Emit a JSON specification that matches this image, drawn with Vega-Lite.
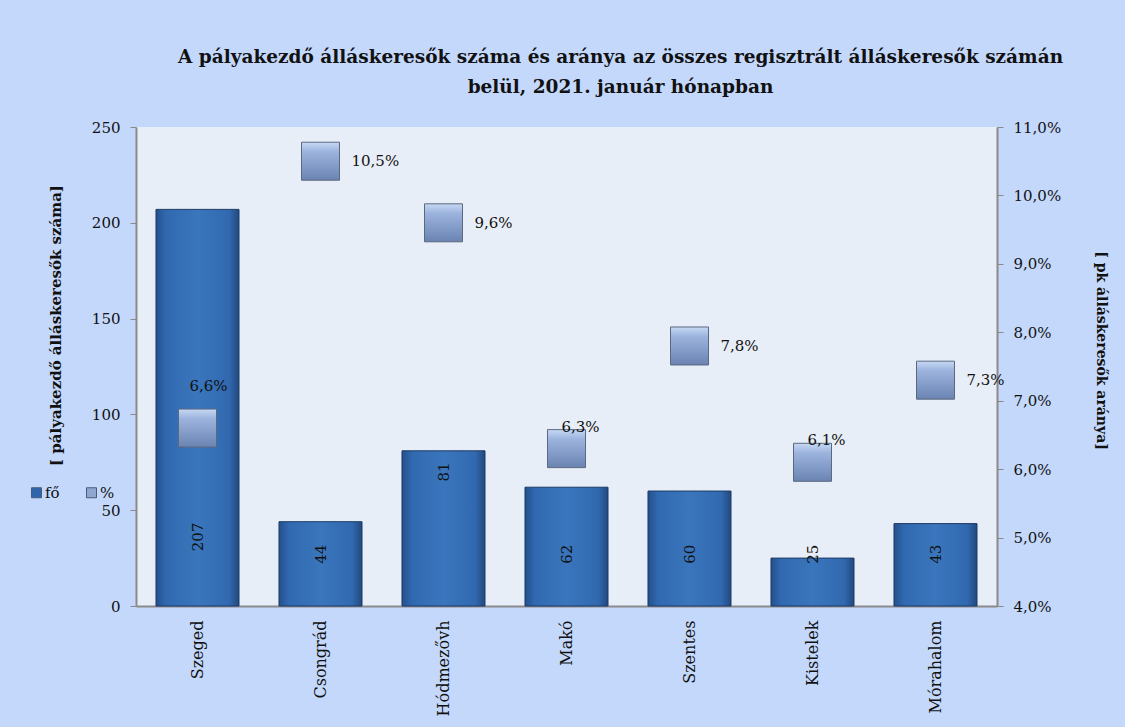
{
  "$schema": "https://vega.github.io/schema/vega-lite/v6.json",
  "width": 861,
  "height": 479,
  "autosize": {"type": "none"},
  "padding": {"left": 136, "top": 127, "right": 128, "bottom": 121},
  "background": "#c4d8fc",
  "config": {
    "locale": {"number": {"decimal": ",", "thousands": "\u00a0", "grouping": [3], "currency": ["", "\u00a0Ft"]}},
    "font": "DejaVu Serif",
    "view": {"fill": "#e8eef7", "stroke": null},
    "axis": {
      "labelFont": "DejaVu Serif", "labelFontSize": 15, "labelColor": "#111",
      "titleFont": "DejaVu Serif", "titleFontSize": 14, "titleFontWeight": "bold", "titleColor": "#111",
      "domainColor": "#8a8a8a", "tickColor": "#8a8a8a", "grid": false, "domainWidth": 2, "tickSize": 6, "labelPadding": 10
    }
  },
  "title": {
    "text": ["A pályakezdő álláskeresők száma és aránya az összes regisztrált álláskeresők számán", "belül, 2021. január hónapban"],
    "font": "DejaVu Serif", "fontSize": 18.5, "fontWeight": "bold", "color": "#111",
    "anchor": "middle", "dx": 54, "offset": 24, "lineHeight": 30
  },
  "data": {"values": [
    {"city": "Szeged", "fo": 207, "pct": 0.066},
    {"city": "Csongrád", "fo": 44, "pct": 0.105},
    {"city": "Hódmezővh", "fo": 81, "pct": 0.096},
    {"city": "Makó", "fo": 62, "pct": 0.063},
    {"city": "Szentes", "fo": 60, "pct": 0.078},
    {"city": "Kistelek", "fo": 25, "pct": 0.061},
    {"city": "Mórahalom", "fo": 43, "pct": 0.073}
  ]},
  "encoding": {
    "x": {"field": "city", "type": "nominal", "sort": null,
      "scale": {"paddingInner": 0.325, "paddingOuter": 0.1625},
      "axis": {"title": null, "labelAngle": -90, "ticks": false, "labelPadding": 14, "labelFontSize": 16}}
  },
  "layer": [
    {
      "layer": [
        {
          "mark": {
            "type": "bar",
            "fill": {"gradient": "linear", "x1": 0, "y1": 0, "x2": 1, "y2": 0,
              "stops": [{"offset": 0, "color": "#24508c"}, {"offset": 0.12, "color": "#3169b0"}, {"offset": 0.5, "color": "#3a76bd"}, {"offset": 0.88, "color": "#3169b0"}, {"offset": 1, "color": "#22497f"}]},
            "stroke": "#1d3a66", "strokeWidth": 1
          },
          "encoding": {
            "y": {"field": "fo", "type": "quantitative", "scale": {"domain": [0, 250], "nice": false},
              "axis": {"values": [0, 50, 100, 150, 200, 250], "title": "[ pályakezdő  álláskeresők száma]", "titleFontSize": 15,
                "titleX": -81, "titleY": 198, "titleAngle": -90, "titleAlign": "center", "titleBaseline": "middle"}}
          }
        },
        {
          "transform": [{"filter": "datum.city !== 'Hódmezővh' && datum.city !== 'Szeged'"}],
          "mark": {"type": "text", "angle": -90, "align": "center", "baseline": "middle", "fontSize": 15, "color": "#111"},
          "encoding": {
            "y": {"datum": 27, "type": "quantitative"},
            "text": {"field": "fo", "type": "quantitative"}
          }
        },
        {
          "transform": [{"filter": "datum.city === 'Szeged'"}],
          "mark": {"type": "text", "angle": -90, "align": "center", "baseline": "middle", "fontSize": 15, "color": "#111"},
          "encoding": {
            "y": {"datum": 36, "type": "quantitative"},
            "text": {"field": "fo", "type": "quantitative"}
          }
        },
        {
          "transform": [{"filter": "datum.city === 'Hódmezővh'"}],
          "mark": {"type": "text", "angle": -90, "align": "center", "baseline": "middle", "fontSize": 15, "color": "#111"},
          "encoding": {
            "y": {"datum": 70, "type": "quantitative"},
            "text": {"field": "fo", "type": "quantitative"}
          }
        }
      ]
    },
    {
      "layer": [
        {
          "mark": {
            "type": "point", "shape": "square", "size": 1444, "filled": true, "opacity": 1,
            "fill": {"gradient": "linear", "x1": 0, "y1": 0, "x2": 0, "y2": 1,
              "stops": [{"offset": 0, "color": "#c6d8f4"}, {"offset": 0.25, "color": "#9cb4dd"}, {"offset": 1, "color": "#6a83b2"}]},
            "stroke": "#5b6980", "strokeWidth": 1
          },
          "encoding": {
            "y": {"field": "pct", "type": "quantitative", "scale": {"domain": [0.04, 0.11], "zero": false, "nice": false},
              "axis": {"orient": "right", "format": ".1%", "values": [0.04, 0.05, 0.06, 0.07, 0.08, 0.09, 0.10, 0.11],
                "title": "[ pk álláskeresők aránya]", "titleX": 103, "titleY": 223, "titleAngle": 90, "titleAlign": "center", "titleBaseline": "middle"}}
          }
        },
        {
          "transform": [{"filter": "indexof(['Csongrád','Hódmezővh','Szentes','Mórahalom'], datum.city) >= 0"}],
          "mark": {"type": "text", "align": "left", "baseline": "middle", "dx": 31, "fontSize": 15, "color": "#111"},
          "encoding": {
            "y": {"field": "pct", "type": "quantitative"},
            "text": {"field": "pct", "type": "quantitative", "format": ".1%"}
          }
        },
        {
          "transform": [{"filter": "datum.city === 'Szeged'"}],
          "mark": {"type": "text", "align": "center", "baseline": "middle", "dx": 11, "dy": -42, "fontSize": 15, "color": "#111"},
          "encoding": {
            "y": {"field": "pct", "type": "quantitative"},
            "text": {"field": "pct", "type": "quantitative", "format": ".1%"}
          }
        },
        {
          "transform": [{"filter": "datum.city === 'Makó' || datum.city === 'Kistelek'"}],
          "mark": {"type": "text", "align": "left", "baseline": "middle", "dx": -5, "dy": -22, "fontSize": 15, "color": "#111"},
          "encoding": {
            "y": {"field": "pct", "type": "quantitative"},
            "text": {"field": "pct", "type": "quantitative", "format": ".1%"}
          }
        },
        {
          "transform": [{"filter": "datum.city === 'Szeged' || datum.city === 'Csongrád'"}],
          "mark": {"type": "square", "opacity": 0, "filled": true},
          "encoding": {
            "y": {"field": "pct", "type": "quantitative"},
            "color": {"field": "city", "type": "nominal",
              "scale": {"domain": ["Szeged", "Csongrád"], "range": ["#2f66ab", "#8fa7d0"]},
              "legend": {"orient": "none", "legendX": -107, "legendY": 358, "direction": "horizontal", "title": null,
                "symbolType": "square", "symbolSize": 100, "symbolOpacity": 1, "symbolStrokeColor": "#4a5a78", "symbolStrokeWidth": 1,
                "labelFont": "DejaVu Serif", "labelFontSize": 15, "labelColor": "#111", "labelOffset": 1, "columnPadding": 24,
                "labelExpr": "datum.label === 'Szeged' ? 'fő' : '%'"}}
          }
        }
      ]
    }
  ],
  "resolve": {"scale": {"y": "independent"}}
}
